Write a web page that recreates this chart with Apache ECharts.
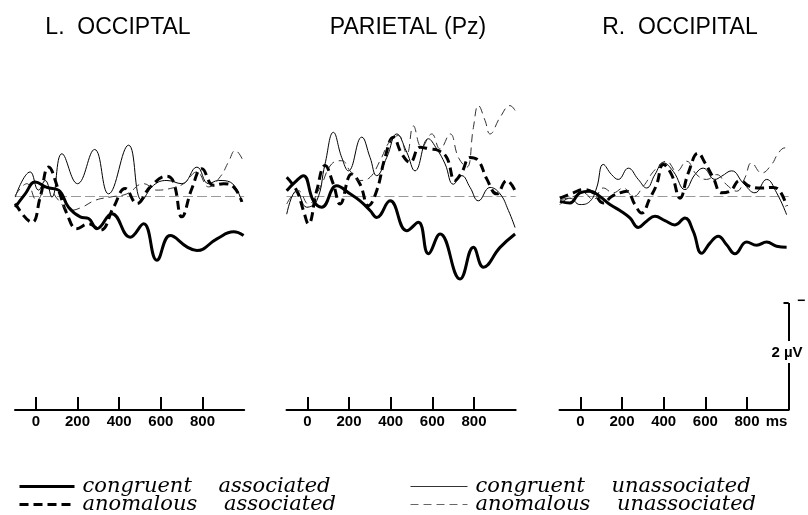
<!DOCTYPE html>
<html><head><meta charset="utf-8">
<script src="https://cdn.jsdelivr.net/npm/echarts@6/dist/echarts.min.js"></script>
<style>html,body{margin:0;padding:0;background:#fff}#c{width:808px;height:515px}</style>
</head><body><div id="c"></div>
<script>
// ---- text / categories ----
const panelTitles = ['L.  OCCIPTAL', 'PARIETAL (Pz)', 'R.  OCCIPITAL'];
const tickValues = [0, 200, 400, 600, 800];
const seriesNames = ['congruent associated', 'anomalous associated', 'congruent unassociated', 'anomalous unassociated'];
const unitLabel = 'ms';
const scaleLabel = '2 \u00b5V';

// ---- data: [time ms, amplitude µV] (negative plotted up) ----
// Left occipital
const loCA = [[-99,0.21],[-51,-0.04],[-3,-0.26],[53,-0.16],[109,-0.11],[157,0.21],[213,0.39],[253,0.42],[293,0.61],[365,0.33],[453,0.77],[517,0.52],[581,1.20],[645,0.74],[725,0.95],[773,1.02],[869,0.80],[949,0.67],[997,0.74]];
const loAA = [[-99,0.14],[-19,0.49],[21,0.02],[61,-0.54],[109,-0.11],[149,0.33],[197,0.61],[253,0.52],[309,0.64],[373,0.21],[429,-0.14],[485,0.14],[549,-0.17],[629,-0.37],[661,-0.26],[701,0.39],[749,-0.14],[797,-0.51],[853,-0.20],[901,-0.23],[949,-0.17],[989,0.11]];
const loCU = [[-99,0.02],[-27,-0.45],[13,-0.11],[45,-0.29],[77,0.02],[125,-0.79],[200,-0.23],[282,-0.87],[349,-0.04],[445,-0.95],[509,0.08],[565,-0.20],[629,-0.29],[701,-0.23],[773,-0.54],[829,-0.23],[877,-0.29],[933,-0.26],[989,0.11]];
const loAU = [[-99,-0.01],[-43,-0.23],[5,0.08],[53,-0.17],[109,0.08],[165,0.27],[221,0.21],[285,0.08],[357,0.02],[437,-0.04],[517,-0.23],[581,-0.11],[645,-0.14],[709,-0.23],[773,-0.45],[829,-0.17],[885,-0.36],[925,-0.64],[957,-0.85],[997,-0.64]];
// Parietal (Pz)
const pzCA = [[-99,-0.10],[-59,-0.26],[-19,-0.38],[29,0.09],[69,0.21],[141,-0.19],[205,-0.04],[253,0.09],[301,0.27],[333,0.40],[397,0.09],[477,0.65],[533,0.49],[581,1.08],[637,0.71],[733,1.55],[797,0.96],[845,1.33],[925,0.96],[997,0.71]];
const pzAA = [[-99,-0.35],[-51,-0.10],[-19,0.27],[5,0.52],[45,-0.10],[85,-0.57],[125,-0.22],[157,0.15],[213,-0.41],[253,-0.22],[293,0.18],[333,-0.10],[373,-0.72],[413,-1.10],[453,-0.79],[493,-0.63],[541,-0.91],[589,-0.88],[629,-0.85],[669,-0.72],[709,-0.29],[741,-0.44],[781,-0.72],[821,-0.66],[861,-0.32],[909,-0.04],[957,-0.29],[997,-0.10]];
const pzCU = [[-99,0.34],[-51,-0.10],[-3,0.21],[45,0.09],[85,-0.60],[125,-1.19],[165,-0.72],[197,-0.47],[261,-1.10],[301,-0.72],[333,-0.38],[381,-0.72],[429,-1.16],[477,-0.82],[517,-0.47],[581,-1.07],[621,-0.88],[661,-0.60],[701,-0.22],[741,-0.38],[781,-0.16],[821,0.09],[877,-0.16],[925,-0.04],[965,0.27],[997,0.59]];
const pzAU = [[-99,0.15],[-43,-0.10],[5,0.15],[61,-0.16],[117,-0.60],[165,-0.66],[205,-0.47],[253,-0.29],[301,-0.35],[349,-0.66],[397,-1.03],[437,-1.13],[477,-0.79],[509,-1.31],[549,-0.91],[597,-1.16],[637,-0.88],[685,-1.16],[725,-0.72],[765,-0.54],[797,-1.28],[821,-1.69],[853,-1.41],[877,-1.16],[925,-1.47],[973,-1.69],[997,-1.60]];
// Right occipital
const roCA = [[-98,0.10],[-50,0.13],[-2,-0.06],[46,-0.09],[94,0.01],[142,0.16],[190,0.27],[238,0.41],[278,0.59],[318,0.47],[358,0.38],[406,0.46],[454,0.54],[502,0.41],[542,0.66],[582,1.07],[622,0.88],[662,0.75],[702,0.91],[742,1.08],[798,0.86],[846,0.92],[894,0.86],[942,0.94],[990,0.96]];
const roAA = [[-98,0.04],[-34,-0.06],[14,-0.12],[62,-0.06],[110,0.13],[150,0.01],[190,-0.06],[222,-0.09],[262,0.16],[294,0.32],[334,0.04],[366,-0.21],[398,-0.59],[438,-0.40],[478,0.04],[518,-0.43],[566,-0.80],[598,-0.62],[638,-0.34],[678,-0.06],[718,-0.09],[766,-0.29],[814,-0.18],[870,-0.15],[926,-0.16],[958,-0.09],[990,0.19]];
const roCU = [[-98,0.16],[-50,0.04],[-2,0.16],[46,0.10],[78,-0.15],[110,-0.59],[150,-0.40],[182,-0.31],[230,-0.52],[278,-0.31],[318,-0.15],[358,-0.40],[398,-0.62],[446,-0.46],[502,-0.12],[550,-0.40],[590,-0.52],[646,-0.31],[678,-0.37],[726,-0.47],[782,-0.24],[838,-0.06],[894,-0.31],[942,-0.06],[990,0.35]];
const roAU = [[-98,0.07],[-34,0.01],[14,-0.06],[62,0.07],[110,-0.15],[158,-0.06],[206,-0.15],[254,0.01],[302,-0.18],[358,-0.49],[414,-0.65],[462,-0.46],[510,-0.65],[558,-0.40],[606,-0.31],[654,-0.40],[702,-0.21],[750,-0.09],[790,-0.34],[822,-0.62],[870,-0.43],[918,-0.59],[950,-0.80],[982,-0.90],[998,-0.85]];

const panelData = [[loCA, loAA, loCU, loAU],[pzCA, pzAA, pzCU, pzAU],[roCA, roAA, roCU, roAU]];

// ---- styles ----
const lineStyles = [
  {color:'#000', width:3, type:'solid'},
  {color:'#000', width:3, type:[9,5]},
  {color:'#000', width:1, type:'solid'},
  {color:'#333', width:1, type:[8,5]}
];
const gridLefts = [15, 286.5, 559.5];
const titleCenters = [118, 408, 680];

const chart = echarts.init(document.getElementById('c'), null, {renderer:'canvas'});

const grids = gridLefts.map(l => ({left:l, width:229.2, top:89, height:321}));
const xAxes = gridLefts.map((l, i) => ({
  gridIndex:i, type:'value', min:-100, max:1000, position:'bottom',
  axisLine:{show:true, onZero:false, lineStyle:{color:'#000', width:2}},
  axisTick:{show:true, customValues:tickValues, inside:true, length:13, lineStyle:{color:'#000', width:2}},
  axisLabel:{show:true, customValues:tickValues, color:'#000', fontSize:15, fontWeight:'bold', fontFamily:'Liberation Sans', margin:4},
  splitLine:{show:false},
  name: i === 2 ? unitLabel : '',
  nameLocation:'end', nameGap:-23,
  nameTextStyle:{color:'#000', fontSize:15, fontWeight:'bold', fontFamily:'Liberation Sans', align:'left', verticalAlign:'top', padding:[4,0,0,0]}
}));
const yAxes = gridLefts.map((l, i) => ({gridIndex:i, type:'value', min:-2, max:4, inverse:true, show:false}));

const series = [];
panelData.forEach((arrs, p) => {
  arrs.forEach((d, k) => {
    const s = {
      name: seriesNames[k], type:'line', xAxisIndex:p, yAxisIndex:p, data:d,
      smooth:0.45, symbol:'none', lineStyle:lineStyles[k], itemStyle:{color:lineStyles[k].color},
      z: k===0 ? 5 : 3
    };
    if (k === 2) {
      s.markLine = {silent:true, symbol:'none', label:{show:false},
        lineStyle:{color:'#9a9a9a', width:1, type:[10,4]}, data:[{yAxis:0}], z:1};
    }
    if (p === 2 && k === 0) {
      s.markLine = {silent:true, symbol:'none', label:{show:false},
        lineStyle:{color:'#000', width:2, type:'solid'},
        data:[
          [{coord:[1000,2]},{coord:[1000,2.71]}],
          [{coord:[1000,3.12]},{coord:[1000,4]}],
          [{coord:[975,2]},{coord:[1000,2]}]
        ]};
    }
    series.push(s);
  });
});

const legendText = {fontFamily:'DejaVu Serif', fontStyle:'italic', fontSize:21, color:'#000', lineHeight:18, padding:[0,0,0,3]};
const legendCommon = {
  top:471, orient:'vertical', itemHeight:14, itemGap:-3, height:45,
  textStyle:legendText,
  itemStyle:{color:'rgba(0,0,0,0)', borderWidth:0, opacity:0},
  formatter: n => n.replace(' ', '    ')
};
const legendItems = seriesNames.map((n, k) => ({name:n, lineStyle:{width:lineStyles[k].width, type:lineStyles[k].type, color:k===3 ? '#666' : (k===2 ? '#333' : '#000')}}));
const option = {
  backgroundColor:'#fff',
  animation:false,
  grid:grids, xAxis:xAxes, yAxis:yAxes, series:series,
  legend:[
    Object.assign({left:13, itemWidth:55, data:[legendItems[0], legendItems[1]]}, legendCommon),
    Object.assign({left:405, itemWidth:57, data:[legendItems[2], legendItems[3]]}, legendCommon)
  ],
  graphic: panelTitles.map((t, i) => ({
    type:'text', x:titleCenters[i], y:28,
    style:{text:t, fill:'#000', font:'23px "Liberation Sans"', textAlign:'center', textVerticalAlign:'middle'}
  })).concat([
    {type:'text', x:787, y:353, style:{text:scaleLabel, fill:'#000', font:'bold 15px "Liberation Sans"', textAlign:'center', textVerticalAlign:'middle'}},
    {type:'text', x:801, y:301, style:{text:'\u2212', fill:'#000', font:'bold 14px "Liberation Sans"', textAlign:'center', textVerticalAlign:'middle'}}
  ])
};
chart.setOption(option);
</script>
</body></html>
